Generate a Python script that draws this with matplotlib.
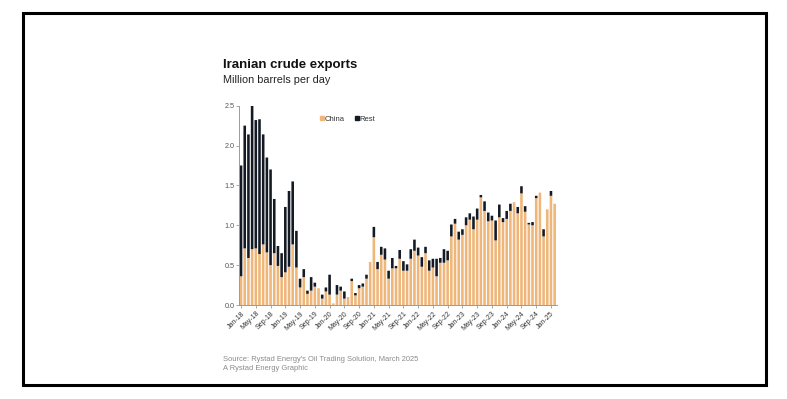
import matplotlib
matplotlib.use("Agg")
import matplotlib.pyplot as plt
from matplotlib.lines import Line2D
from matplotlib.patches import Rectangle
import numpy as np

# ---- data (million barrels per day) ----
months = ["Jan-18","Feb-18","Mar-18","Apr-18","May-18","Jun-18","Jul-18","Aug-18","Sep-18","Oct-18","Nov-18","Dec-18",
          "Jan-19","Feb-19","Mar-19","Apr-19","May-19","Jun-19","Jul-19","Aug-19","Sep-19","Oct-19","Nov-19","Dec-19",
          "Jan-20","Feb-20","Mar-20","Apr-20","May-20","Jun-20","Jul-20","Aug-20","Sep-20","Oct-20","Nov-20","Dec-20",
          "Jan-21","Feb-21","Mar-21","Apr-21","May-21","Jun-21","Jul-21","Aug-21","Sep-21","Oct-21","Nov-21","Dec-21",
          "Jan-22","Feb-22","Mar-22","Apr-22","May-22","Jun-22","Jul-22","Aug-22","Sep-22","Oct-22","Nov-22","Dec-22",
          "Jan-23","Feb-23","Mar-23","Apr-23","May-23","Jun-23","Jul-23","Aug-23","Sep-23","Oct-23","Nov-23","Dec-23",
          "Jan-24","Feb-24","Mar-24","Apr-24","May-24","Jun-24","Jul-24","Aug-24","Sep-24","Oct-24","Nov-24","Dec-24",
          "Jan-25","Feb-25"]

china = [0.36,0.71,0.59,0.70,0.71,0.64,0.76,0.66,0.50,0.65,0.49,0.35,
         0.41,0.48,0.76,0.47,0.22,0.35,0.14,0.18,0.23,0.21,0.08,0.17,
         0.13,0.02,0.13,0.18,0.08,0.10,0.30,0.12,0.21,0.23,0.33,0.54,
         0.85,0.45,0.63,0.57,0.33,0.46,0.46,0.58,0.43,0.43,0.58,0.68,
         0.62,0.48,0.65,0.43,0.47,0.36,0.53,0.53,0.56,0.86,1.02,0.82,
         0.88,1.00,1.07,0.95,1.07,1.35,1.18,1.05,1.06,0.81,1.10,1.04,
         1.08,1.18,1.29,1.15,1.40,1.17,1.01,1.00,1.34,1.41,0.86,1.20,
         1.37,1.27]

total = [1.75,2.25,2.14,2.50,2.32,2.33,2.14,1.85,1.70,1.33,0.74,0.65,
         1.23,1.43,1.55,0.93,0.33,0.45,0.18,0.35,0.28,0.21,0.13,0.22,
         0.38,0.02,0.25,0.23,0.17,0.10,0.33,0.15,0.25,0.27,0.38,0.54,
         0.98,0.54,0.73,0.71,0.43,0.59,0.49,0.69,0.55,0.51,0.70,0.82,
         0.72,0.60,0.73,0.56,0.58,0.58,0.59,0.70,0.68,1.01,1.08,0.92,
         0.95,1.10,1.15,1.11,1.21,1.38,1.30,1.16,1.12,1.06,1.26,1.09,
         1.18,1.27,1.29,1.23,1.49,1.24,1.03,1.04,1.37,1.41,0.95,1.20,
         1.43,1.27]

rest = [round(t - c, 2) for t, c in zip(total, china)]

yticks = [0.0, 0.5, 1.0, 1.5, 2.0, 2.5]
title = "Iranian crude exports"
subtitle = "Million barrels per day"
source_lines = ["Source: Rystad Energy's Oil Trading Solution, March 2025",
                "A Rystad Energy Graphic"]

# ---- styling ----
W, H = 787, 399
FONT = "Liberation Sans"
ORANGE = "#EFB67A"
BLACK = "#141a24"

fig = plt.figure(figsize=(W / 100, H / 100), dpi=100)
fig.patch.set_facecolor("white")

def fx(px):
    return px / W

def fy(py):
    return 1 - py / H

ax = fig.add_axes([fx(239.2), fy(305), fx(556.5) - fx(239.2), fy(105.7) - fy(305)])

x = np.arange(len(months))
ax.bar(x, china, width=0.7, color=ORANGE, linewidth=0, snap=False)
ax.bar(x, rest, width=0.7, bottom=china, color=BLACK, linewidth=0, snap=False)

ax.set_xlim(-0.5, len(months) - 0.5)
ax.set_ylim(0, 2.5)
ax.set_yticks(yticks)
ax.set_yticklabels([f"{v:.1f}" for v in yticks], fontsize=5.2, color="#555555", family=FONT)
ax.set_xticks(x[::4])
ax.set_xticklabels(months[::4], rotation=45, ha="right", rotation_mode="anchor",
                   fontsize=5.0, color="#333333", family=FONT)

for s in ["top", "right"]:
    ax.spines[s].set_visible(False)
for s in ["left", "bottom"]:
    ax.spines[s].set_color("#9a9a9a")
    ax.spines[s].set_linewidth(0.7)
ax.tick_params(axis="both", length=2, width=0.6, color="#9a9a9a", pad=1.5)

handles = [Line2D([], [], marker="s", linestyle="none", markersize=2.6, color=ORANGE),
           Line2D([], [], marker="s", linestyle="none", markersize=2.6, color=BLACK)]
fig.legend(handles, ["China", "Rest"], loc="center left",
           bbox_to_anchor=(fx(316), fy(119)), ncol=2, frameon=False,
           handlelength=0.5, handletextpad=0.15, columnspacing=1.3,
           borderpad=0, prop={"family": FONT, "size": 5.5}, labelcolor="#333333")

fig.text(fx(223), fy(68), title, fontsize=9.5, fontweight="bold", family=FONT,
         color="#111111", va="baseline", ha="left")
fig.text(fx(223), fy(83), subtitle, fontsize=7.8, family=FONT,
         color="#222222", va="baseline", ha="left")
fig.text(fx(223), fy(361), source_lines[0], fontsize=5.4, family=FONT,
         color="#8a8a8a", va="baseline", ha="left")
fig.text(fx(223), fy(369.5), source_lines[1], fontsize=5.4, family=FONT,
         color="#8a8a8a", va="baseline", ha="left")

frame = Rectangle((fx(22.5), fy(384.5)), fx(765.5) - fx(22.5), fy(12.5) - fy(384.5),
                  transform=fig.transFigure, fill=False, edgecolor="black",
                  linewidth=2.2, zorder=10)
fig.patches.append(frame)

fig.savefig("out.png", dpi=100, facecolor="white")
